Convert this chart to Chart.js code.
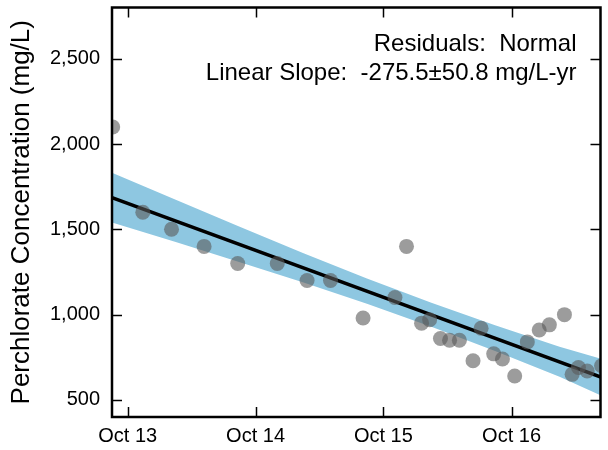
<!DOCTYPE html>
<html>
<head>
<meta charset="utf-8">
<script src="https://cdn.jsdelivr.net/npm/chart.js@4.4.1/dist/chart.umd.min.js"></script>
<style>
  html, body { margin: 0; padding: 0; background: #fff; }
  canvas { display: block; }
</style>
</head>
<body>
<canvas id="myChart" width="608" height="450"></canvas>
<script>
// sample dates and measured perchlorate (mg/L)
const sampleDates = [
    '2013-08-19', '2013-11-13', '2014-02-03', '2014-05-07', '2014-08-11', '2014-12-02',
    '2015-02-25', '2015-05-03', '2015-08-04', '2015-11-03', '2015-12-06', '2016-01-18',
    '2016-02-10', '2016-03-12', '2016-04-07', '2016-05-05', '2016-06-13', '2016-07-06',
    '2016-08-11', '2016-09-05', '2016-10-10', '2016-11-15', '2016-12-19', '2017-01-17',
    '2017-03-01', '2017-03-23', '2017-04-10', '2017-05-05', '2017-06-15'
];
const concentrations = [
    2100, 1600, 1500, 1400, 1300, 1300,
    1200, 1200, 980, 1100, 1400, 950,
    970, 860, 850, 850, 730, 920,
    770, 740, 640, 840, 910, 940,
    1000, 650, 690, 670, 700
];

// fitted trend and its confidence band
const trendDates = ['2013-08-17', '2017-06-15'];
const trendValues = [1686, 633];
const bandDates = ['2013-08-17', '2014-02-15', '2014-08-15', '2015-02-15', '2015-08-15',
    '2016-02-15', '2016-08-15', '2017-02-15', '2017-06-15'];
const bandUpper = [1832, 1673, 1517, 1360, 1212, 1069, 937, 812, 741];
const bandLower = [1540, 1425, 1309, 1188, 1064, 929, 787, 636, 525];

const xTickDates = ['2013-10-01', '2014-10-01', '2015-10-01', '2016-10-01'];
const xTickLabels = ['Oct 13', 'Oct 14', 'Oct 15', 'Oct 16'];
const xRange = ['2013-08-17', '2017-06-12'];
const yTicks = [500, 1000, 1500, 2000, 2500];
const yRange = [400, 2800];
const notes = ['Residuals:  Normal', 'Linear Slope:  -275.5\u00b150.8 mg/L-yr'];

const family = '"Liberation Sans", Arial, Helvetica, sans-serif';

function toTime(d) {
    return Date.parse(d + 'T00:00:00Z');
}
function pairs(dates, vals) {
    return dates.map((d, i) => ({ x: toTime(d), y: vals[i] }));
}

// box frame, inward ticks on all four sides, and the fit notes
const frame = {
    id: 'frame',
    afterDraw(chart) {
        const { ctx, chartArea: a, scales: { x, y } } = chart;
        ctx.save();
        ctx.strokeStyle = '#000';
        ctx.lineWidth = 1.5;
        const seg = (x1, y1, x2, y2) => {
            ctx.beginPath();
            ctx.moveTo(x1, y1);
            ctx.lineTo(x2, y2);
            ctx.stroke();
        };
        xTickDates.forEach(d => {
            const px = Math.round(x.getPixelForValue(toTime(d))) + 0.5;
            seg(px, a.bottom, px, a.bottom - 10);
            seg(px, a.top, px, a.top + 10);
        });
        yTicks.forEach(v => {
            const py = Math.round(y.getPixelForValue(v)) + 0.5;
            seg(a.left, py, a.left + 10, py);
            seg(a.right, py, a.right - 10, py);
        });
        ctx.lineWidth = 2.5;
        ctx.strokeRect(a.left, a.top, a.right - a.left, a.bottom - a.top);

        ctx.fillStyle = '#000';
        ctx.font = '24px ' + family;
        ctx.textAlign = 'right';
        ctx.textBaseline = 'alphabetic';
        ctx.fillText(notes[0], a.right - 24, a.top + 43);
        ctx.fillText(notes[1], a.right - 24, a.top + 72);
        ctx.restore();
    }
};

const ctx = document.getElementById('myChart').getContext('2d');
const myChart = new Chart(ctx, {
    type: 'scatter',
    data: {
        datasets: [
            {
                label: 'Samples',
                data: pairs(sampleDates, concentrations),
                order: 0,
                pointRadius: 7.5,
                pointHoverRadius: 7.5,
                pointBorderWidth: 0,
                backgroundColor: 'rgba(90, 90, 90, 0.6)',
                borderColor: 'rgba(0, 0, 0, 0)',
                clip: 0
            },
            {
                label: 'Trend',
                data: pairs(trendDates, trendValues),
                order: 1,
                showLine: true,
                pointRadius: 0,
                borderColor: '#000',
                borderWidth: 3.5,
                clip: 0
            },
            {
                label: 'Upper',
                data: pairs(bandDates, bandUpper),
                order: 2,
                showLine: true,
                pointRadius: 0,
                borderWidth: 0,
                borderColor: 'rgba(0, 0, 0, 0)',
                backgroundColor: 'rgb(142, 199, 225)',
                fill: '+1',
                clip: 0
            },
            {
                label: 'Lower',
                data: pairs(bandDates, bandLower),
                order: 2,
                showLine: true,
                pointRadius: 0,
                borderWidth: 0,
                borderColor: 'rgba(0, 0, 0, 0)',
                fill: false,
                clip: 0
            }
        ]
    },
    options: {
        responsive: false,
        animation: false,
        layout: { padding: { top: 6, right: 2, left: 0, bottom: 0 } },
        plugins: {
            legend: { display: false },
            tooltip: { enabled: false }
        },
        scales: {
            x: {
                type: 'linear',
                min: toTime(xRange[0]),
                max: toTime(xRange[1]),
                afterBuildTicks: s => { s.ticks = xTickDates.map(d => ({ value: toTime(d) })); },
                afterFit: s => {
                    s.height = 33;
                    s.paddingLeft = 0;
                    s.paddingRight = 0;
                },
                grid: { display: false, drawTicks: false },
                border: { display: false },
                ticks: {
                    padding: 7,
                    color: '#000',
                    maxRotation: 0,
                    autoSkip: false,
                    font: { size: 20, family: family },
                    callback: (v, i) => xTickLabels[i]
                }
            },
            y: {
                min: yRange[0],
                max: yRange[1],
                afterBuildTicks: s => { s.ticks = yTicks.map(v => ({ value: v })); },
                afterFit: s => {
                    s.width = 112;
                    s.paddingTop = 0;
                    s.paddingBottom = 0;
                },
                grid: { display: false, drawTicks: false },
                border: { display: false },
                ticks: {
                    padding: 12,
                    color: '#000',
                    font: { size: 20, family: family },
                    callback: v => v.toLocaleString('en-US')
                },
                title: {
                    display: true,
                    text: 'Perchlorate Concentration (mg/L)',
                    color: '#000',
                    font: { size: 26, family: family },
                    padding: { top: 6, bottom: 0 }
                }
            }
        }
    },
    plugins: [frame]
});
</script>
</body>
</html>
